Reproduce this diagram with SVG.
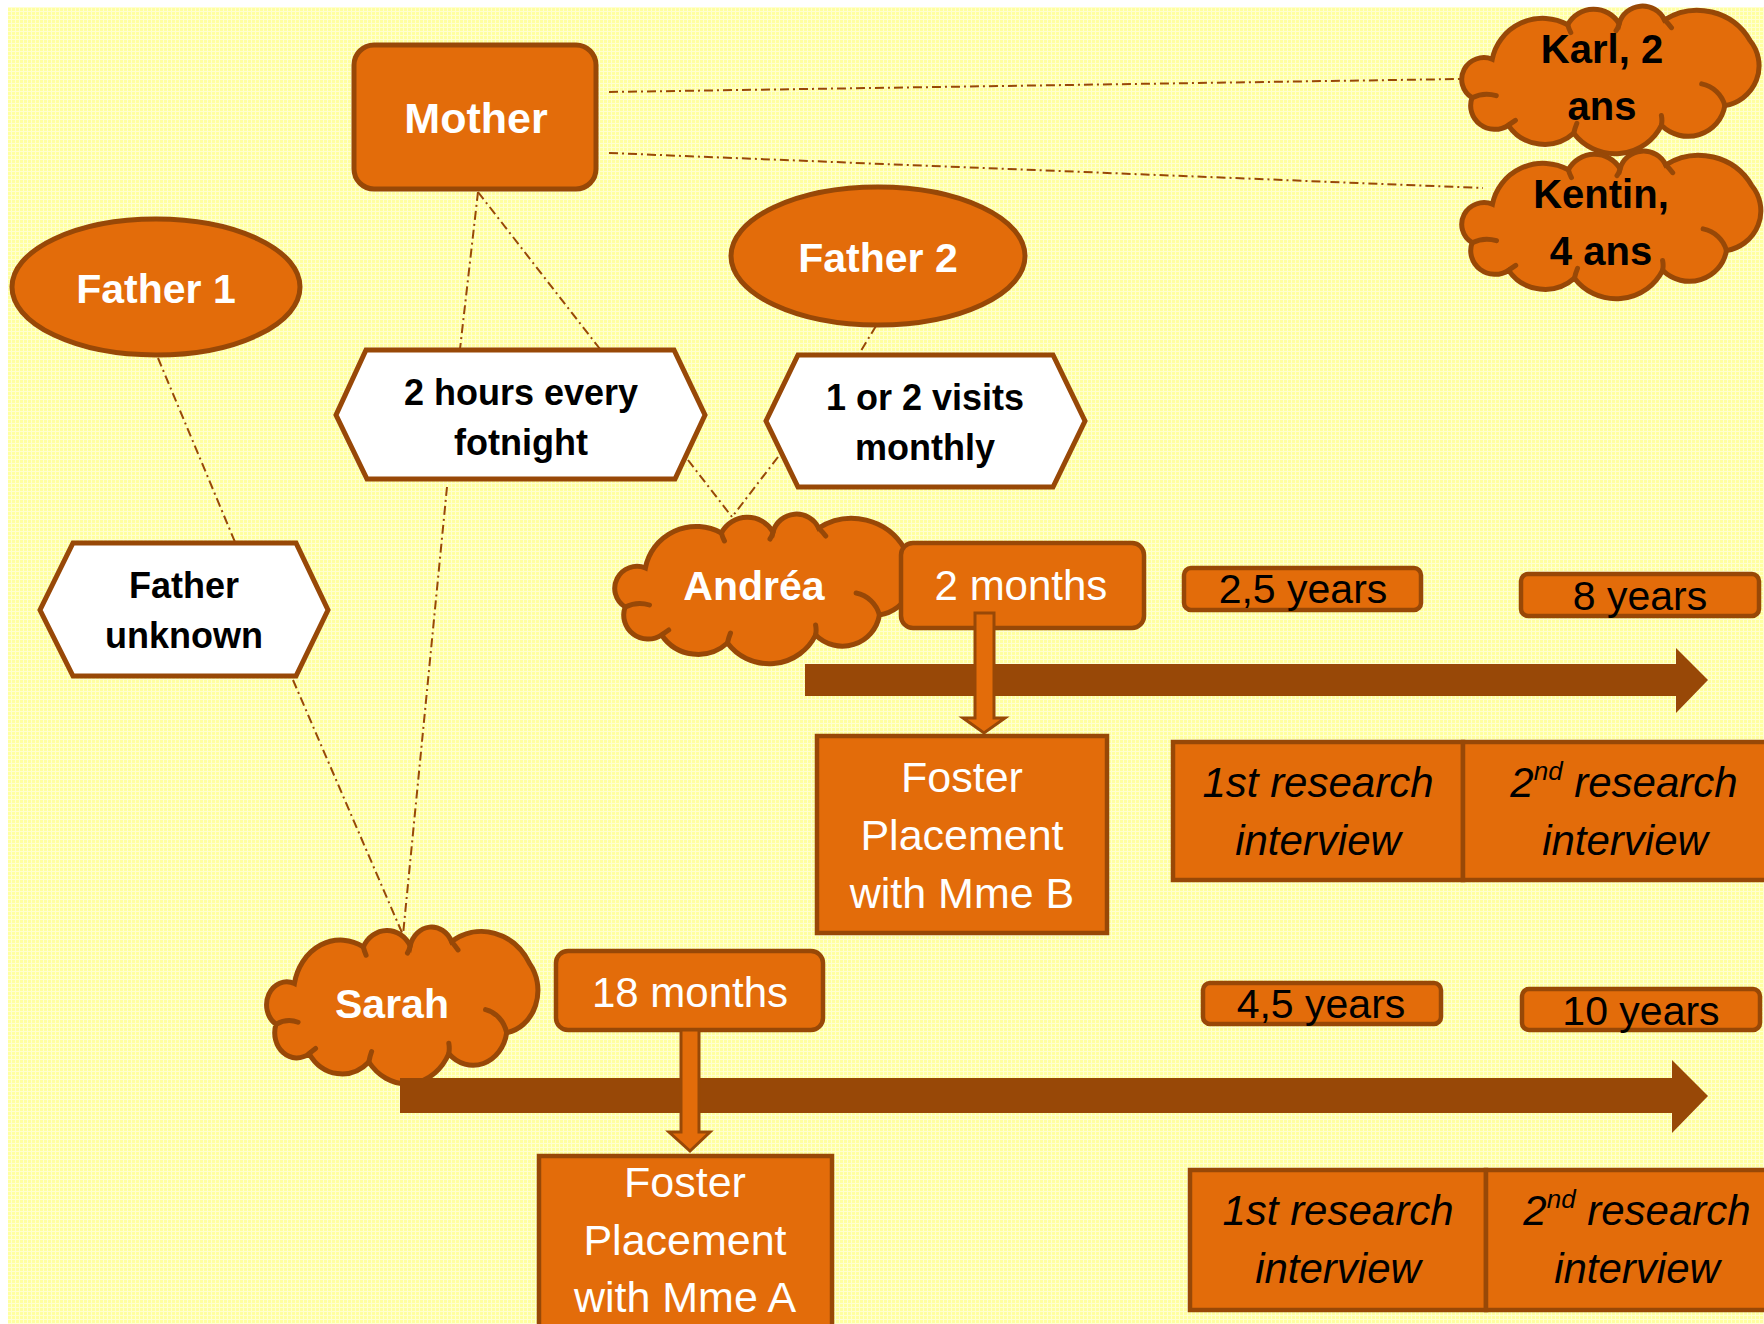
<svg xmlns="http://www.w3.org/2000/svg" xmlns:xlink="http://www.w3.org/1999/xlink" width="1764" height="1324" viewBox="0 0 1764 1324">
<style>
.bg{fill:url(#dots)}
.shape{fill:#E36C0A;stroke:#984807;stroke-width:5}
.box{fill:#E36C0A;stroke:#984807;stroke-width:4.5}
.hex{fill:#FFFFFF;stroke:#984807;stroke-width:5;stroke-linejoin:miter}
.cloud{fill:#E36C0A;stroke:#984807;stroke-width:5}
.crease{fill:none;stroke:#984807;stroke-width:5;stroke-linecap:round}
.link{fill:none;stroke:#984807;stroke-width:2;stroke-dasharray:9 4 2 4}
.bar{fill:#984807}
.varrow{fill:#E36C0A;stroke:#984807;stroke-width:3}
text{font-family:"Liberation Sans",Arial,sans-serif;text-anchor:middle}
.tb{font-weight:bold;fill:#FFFFFF;font-size:41px}
.tk{font-weight:bold;fill:#000000;font-size:36px}
.tk2{font-weight:bold;fill:#000000;font-size:40px}
.tw{fill:#FFFFFF;font-size:42px}
.ty{fill:#000000;font-size:41px}
.ti{fill:#000000;font-size:42px;font-style:italic}
</style>
<defs>
<pattern id="dots" width="4" height="4" patternUnits="userSpaceOnUse">
<rect width="4" height="4" fill="#FFFFD0"/>
<rect width="3" height="3" fill="#FFFFA0"/>
</pattern>
<path id="cloudShape" vector-effect="non-scaling-stroke" d="M12,92 A22,22 0 0 1 32,53 A51,51 0 0 1 107,18 A29,29 0 0 1 158,17 A24,24 0 0 1 203,13 A60,60 0 0 1 288,34 A41,41 0 0 1 263,100 A37,37 0 0 1 200,120 A51,51 0 0 1 113,128 A43,43 0 0 1 48,120 A24,24 0 0 1 12,92 Z"/>
<path id="cloudCrease" vector-effect="non-scaling-stroke" d="M12,92 Q24,86 36,90 M240,78 A30,30 0 0 1 263,100 M107,18 Q108,22 110,26 M158,17 Q157,21 155,24 M203,13 Q207,17 210,21 M113,128 Q114,123 116,118 M200,120 Q201,115 200,110 M48,120 Q52,117 55,115"/>
</defs>

<rect x="0" y="0" width="1764" height="1324" fill="#FFFFFF"/>
<rect class="bg" x="8" y="7" width="1756" height="1317"/>

<g id="connectors">
<line class="link" x1="609" y1="92" x2="1460" y2="79"/>
<line class="link" x1="609" y1="153" x2="1483" y2="188"/>
<line class="link" x1="478" y1="192" x2="460" y2="349"/>
<line class="link" x1="478" y1="192" x2="600" y2="349"/>
<line class="link" x1="158" y1="358" x2="235" y2="542"/>
<line class="link" x1="876" y1="326" x2="859" y2="354"/>
<line class="link" x1="688" y1="460" x2="732" y2="517"/>
<line class="link" x1="778" y1="457" x2="732" y2="517"/>
<line class="link" x1="293" y1="680" x2="403" y2="935"/>
<line class="link" x1="447" y1="487" x2="403" y2="935"/>
</g>

<g id="mother">
<rect class="shape" x="354" y="45" width="242" height="144" rx="20"/>
<text class="tb" x="476" y="133" style="font-size:43px">Mother</text>
</g>

<g id="father1">
<ellipse class="shape" cx="156" cy="287" rx="144" ry="68"/>
<text class="tb" x="156" y="303">Father 1</text>
</g>

<g id="father2">
<ellipse class="shape" cx="878" cy="256" rx="147" ry="69"/>
<text class="tb" x="878" y="272">Father 2</text>
</g>

<g id="karl">
<g transform="translate(1460,7) scale(1.007,0.986)">
<use xlink:href="#cloudShape" class="cloud"/>
<use xlink:href="#cloudCrease" class="crease"/>
</g>
<text class="tk2" x="1602" y="63">Karl, 2</text>
<text class="tk2" x="1602" y="120">ans</text>
</g>

<g id="kentin">
<g transform="translate(1460,152) scale(1.013,0.986)">
<use xlink:href="#cloudShape" class="cloud"/>
<use xlink:href="#cloudCrease" class="crease"/>
</g>
<text class="tk2" x="1601" y="208">Kentin,</text>
<text class="tk2" x="1601" y="265">4 ans</text>
</g>

<g id="hex-2hours">
<polygon class="hex" points="366,350 674,350 705,415 675,479 367,479 336,415"/>
<text class="tk" x="521" y="405">2 hours every</text>
<text class="tk" x="521" y="455">fotnight</text>
</g>

<g id="hex-visits">
<polygon class="hex" points="798,355 1053,355 1085,421 1053,487 798,487 766,421"/>
<text class="tk" x="925" y="410">1 or 2 visits</text>
<text class="tk" x="925" y="460">monthly</text>
</g>

<g id="hex-unknown">
<polygon class="hex" points="73,543 296,543 328,610 296,676 73,676 40,610"/>
<text class="tk" x="184" y="598">Father</text>
<text class="tk" x="184" y="648">unknown</text>
</g>

<g id="timeline1">
<polygon class="bar" points="805,664 1676,664 1676,648 1708,680 1676,713 1676,696 805,696"/>
</g>

<g id="andrea">
<g transform="translate(613,515) scale(1.013,1)">
<use xlink:href="#cloudShape" class="cloud"/>
<use xlink:href="#cloudCrease" class="crease"/>
</g>
<text class="tb" x="754" y="600">Andréa</text>
</g>

<g id="age-2months">
<rect class="box" x="901" y="543" width="243" height="85" rx="12"/>
<text class="tw" x="1021" y="600">2 months</text>
</g>

<g id="arrow-andrea">
<polygon class="varrow" points="975,613 994,613 994,718 1005,718 984,733 963,718 975,718"/>
</g>

<g id="foster-b">
<rect class="box" x="817" y="736" width="290" height="197"/>
<text class="tw" x="962" y="792" style="font-size:43px">Foster</text>
<text class="tw" x="962" y="850" style="font-size:43px">Placement</text>
<text class="tw" x="962" y="908" style="font-size:43px">with Mme B</text>
</g>

<g id="age-2-5">
<rect class="box" x="1184" y="568" width="237" height="42" rx="7"/>
<text class="ty" x="1303" y="603">2,5 years</text>
</g>

<g id="age-8">
<rect class="box" x="1521" y="574" width="238" height="42" rx="7"/>
<text class="ty" x="1640" y="610">8 years</text>
</g>

<g id="interview1-a">
<rect class="box" x="1173" y="742" width="290" height="138"/>
<text class="ti" x="1318" y="797">1st research</text>
<text class="ti" x="1318" y="855">interview</text>
</g>

<g id="interview2-a">
<rect class="box" x="1463" y="742" width="310" height="138"/>
<text class="ti" x="1624" y="797">2<tspan font-size="26" dy="-17">nd</tspan><tspan dy="17"> research</tspan></text>
<text class="ti" x="1625" y="855">interview</text>
</g>

<g id="sarah">
<g transform="translate(265,928) scale(0.919,1.047)">
<use xlink:href="#cloudShape" class="cloud"/>
<use xlink:href="#cloudCrease" class="crease"/>
</g>
<text class="tb" x="392" y="1018">Sarah</text>
</g>

<g id="timeline2">
<polygon class="bar" points="400,1078 1672,1078 1672,1060 1708,1096 1672,1133 1672,1113 400,1113"/>
</g>

<g id="age-18months">
<rect class="box" x="556" y="951" width="267" height="79" rx="12"/>
<text class="tw" x="690" y="1007">18 months</text>
</g>

<g id="arrow-sarah">
<polygon class="varrow" points="681,1030 699,1030 699,1132 710,1132 690,1151 669,1132 681,1132"/>
</g>

<g id="foster-a">
<rect class="box" x="539" y="1156" width="293" height="190"/>
<text class="tw" x="685" y="1197" style="font-size:43px">Foster</text>
<text class="tw" x="685" y="1255" style="font-size:43px">Placement</text>
<text class="tw" x="685" y="1312" style="font-size:43px">with Mme A</text>
</g>

<g id="age-4-5">
<rect class="box" x="1203" y="983" width="238" height="41" rx="7"/>
<text class="ty" x="1321" y="1018">4,5 years</text>
</g>

<g id="age-10">
<rect class="box" x="1522" y="989" width="238" height="41" rx="7"/>
<text class="ty" x="1641" y="1025">10 years</text>
</g>

<g id="interview1-s">
<rect class="box" x="1190" y="1170" width="296" height="140"/>
<text class="ti" x="1338" y="1225">1st research</text>
<text class="ti" x="1338" y="1283">interview</text>
</g>

<g id="interview2-s">
<rect class="box" x="1486" y="1170" width="290" height="140"/>
<text class="ti" x="1637" y="1225">2<tspan font-size="26" dy="-17">nd</tspan><tspan dy="17"> research</tspan></text>
<text class="ti" x="1637" y="1283">interview</text>
</g>
</svg>
